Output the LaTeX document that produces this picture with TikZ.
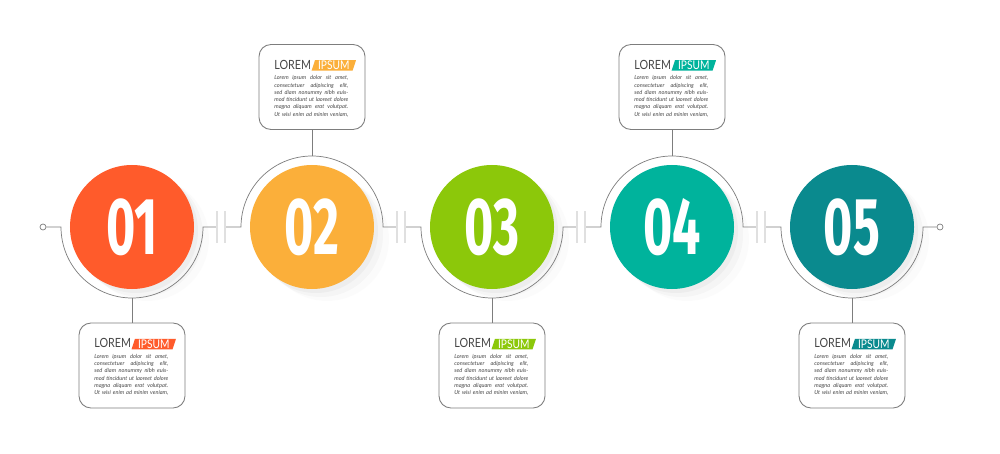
\documentclass[tikz,border=0pt]{standalone}
\usepackage{fontspec}
\setmainfont{Lato}
\newfontfamily\numfont{Fira Sans}[FakeStretch=0.62]
\newfontfamily\headfont{Lato}[FakeStretch=0.85]
\usetikzlibrary{calc,positioning,shapes,shadows}

\definecolor{stepred}{RGB}{255,91,43}
\definecolor{steporange}{RGB}{251,175,58}
\definecolor{stepgreen}{RGB}{140,200,10}
\definecolor{stepteal}{RGB}{0,179,156}
\definecolor{stepdark}{RGB}{10,138,142}
\definecolor{linegray}{RGB}{125,125,125}
\definecolor{textgray}{RGB}{70,70,70}

\newcommand{\bodyline}[1]{\leavevmode\hbox to 14.8mm{\spaceskip=0.2em plus 1fil\relax #1}}
\newcommand{\loremtext}{%
\bodyline{Lorem ipsum dolor sit amet,}\\
\bodyline{consectetuer adipiscing elit,}\\
\bodyline{sed diam nonummy nibh euis-}\\
\bodyline{mod tincidunt ut laoreet dolore}\\
\bodyline{magna aliquam erat volutpat.}\\
\bodyline{Ut wisi enim ad minim veniam,}}

\begin{document}
\begin{tikzpicture}[
  x=0.2mm, y=0.2mm,
  step circle/.style={
    circle,
    minimum size=24.8mm,
    inner sep=0pt,
    outer sep=0pt,
    text=white,
    font=\numfont\bfseries\fontsize{46}{46}\selectfont,
    drop shadow={shadow xshift=0.8mm, shadow yshift=-0.8mm, opacity=0.07},
    drop shadow={shadow xshift=1.8mm, shadow yshift=-1.6mm, opacity=0.05},
    drop shadow={shadow xshift=3mm, shadow yshift=-2.4mm, opacity=0.03}
  },
  info box/.style={
    rectangle,
    rounded corners=2.4mm,
    draw=linegray,
    line width=0.5pt,
    fill=white,
    minimum width=21.2mm, minimum height=17mm,
    outer sep=0pt
  },
  lorem head/.style={
    inner sep=0pt,
    text=textgray,
    font=\headfont\fontsize{7.2}{7.2}\selectfont
  },
  ipsum tag/.style={
    trapezium,
    trapezium left angle=72, trapezium right angle=108,
    inner xsep=0pt, inner ysep=0pt,
    minimum height=2.1mm,
    text=white,
    font=\headfont\fontsize{6.8}{6.8}\selectfont
  },
  lorem body/.style={
    inner sep=0pt,
    text width=14.8mm,
    align=left,
    text=textgray,
    font=\fontsize{3.2}{4.1}\selectfont\itshape
  },
  track/.style={draw=linegray, line width=0.4pt},
  break tick/.style={draw=black!12, line width=0.8pt},
  end dot/.style={
    circle,
    draw=linegray,
    line width=0.4pt,
    fill=white,
    minimum size=1.2mm,
    inner sep=0pt
  }
  ]
\useasboundingbox (0,0) rectangle (1000,-454);
% Steps
\node [step circle, fill=stepred] (c1) at (132,-227) {01};
\node [step circle, fill=steporange] (c2) at (312,-227) {02};
\node [step circle, fill=stepgreen] (c3) at (492,-227) {03};
\node [step circle, fill=stepteal] (c4) at (672,-227) {04};
\node [step circle, fill=stepdark] (c5) at (852,-227) {05};
% Track
\node [end dot] (d0) at (43,-227) {};
\node [end dot] (d1) at (940,-227) {};
\draw [track] (d0) -- ($(c1)+(-71,0)$) arc[start angle=180, end angle=360, radius=71] -- ($(c1)+(85,0)$);
\draw [track] ($(c1)+(93,0)$) -- ($(c2)+(-71,0)$) arc[start angle=180, end angle=0, radius=71] -- ($(c2)+(85,0)$);
\draw [track] ($(c2)+(93,0)$) -- ($(c3)+(-71,0)$) arc[start angle=180, end angle=360, radius=71] -- ($(c3)+(85,0)$);
\draw [track] ($(c3)+(93,0)$) -- ($(c4)+(-71,0)$) arc[start angle=180, end angle=0, radius=71] -- ($(c4)+(85,0)$);
\draw [track] ($(c4)+(93,0)$) -- ($(c5)+(-71,0)$) arc[start angle=180, end angle=360, radius=71] -- (d1);
\draw [break tick] ($(c1)+(85,-16)$) -- ++(0,32) ($(c1)+(93,-16)$) -- ++(0,32);
\draw [break tick] ($(c2)+(85,-16)$) -- ++(0,32) ($(c2)+(93,-16)$) -- ++(0,32);
\draw [break tick] ($(c3)+(85,-16)$) -- ++(0,32) ($(c3)+(93,-16)$) -- ++(0,32);
\draw [break tick] ($(c4)+(85,-16)$) -- ++(0,32) ($(c4)+(93,-16)$) -- ++(0,32);
% Box 01
\node [info box] (b1) at (132,-365.5) {};
\draw [track] (b1.north) -- ($(c1)+(0,-71)$);
\node [lorem head, anchor=base west] (h1) at ($(b1.north west)+(15,-25)$) {LOREM};
\node [ipsum tag, fill=stepred, anchor=west] (t1) at ($(h1.base east)+(1.5,4)$) {IPSUM};
\node [lorem body, anchor=north west] (p1) at ($(b1.north west)+(15,-31)$) {\loremtext};
% Box 02
\node [info box] (b2) at (312,-87) {};
\draw [track] (b2.south) -- ($(c2)+(0,71)$);
\node [lorem head, anchor=base west] (h2) at ($(b2.north west)+(15,-25)$) {LOREM};
\node [ipsum tag, fill=steporange, anchor=west] (t2) at ($(h2.base east)+(1.5,4)$) {IPSUM};
\node [lorem body, anchor=north west] (p2) at ($(b2.north west)+(15,-31)$) {\loremtext};
% Box 03
\node [info box] (b3) at (492,-365.5) {};
\draw [track] (b3.north) -- ($(c3)+(0,-71)$);
\node [lorem head, anchor=base west] (h3) at ($(b3.north west)+(15,-25)$) {LOREM};
\node [ipsum tag, fill=stepgreen, anchor=west] (t3) at ($(h3.base east)+(1.5,4)$) {IPSUM};
\node [lorem body, anchor=north west] (p3) at ($(b3.north west)+(15,-31)$) {\loremtext};
% Box 04
\node [info box] (b4) at (672,-87) {};
\draw [track] (b4.south) -- ($(c4)+(0,71)$);
\node [lorem head, anchor=base west] (h4) at ($(b4.north west)+(15,-25)$) {LOREM};
\node [ipsum tag, fill=stepteal, anchor=west] (t4) at ($(h4.base east)+(1.5,4)$) {IPSUM};
\node [lorem body, anchor=north west] (p4) at ($(b4.north west)+(15,-31)$) {\loremtext};
% Box 05
\node [info box] (b5) at (852,-365.5) {};
\draw [track] (b5.north) -- ($(c5)+(0,-71)$);
\node [lorem head, anchor=base west] (h5) at ($(b5.north west)+(15,-25)$) {LOREM};
\node [ipsum tag, fill=stepdark, anchor=west] (t5) at ($(h5.base east)+(1.5,4)$) {IPSUM};
\node [lorem body, anchor=north west] (p5) at ($(b5.north west)+(15,-31)$) {\loremtext};
\end{tikzpicture}
\end{document}
